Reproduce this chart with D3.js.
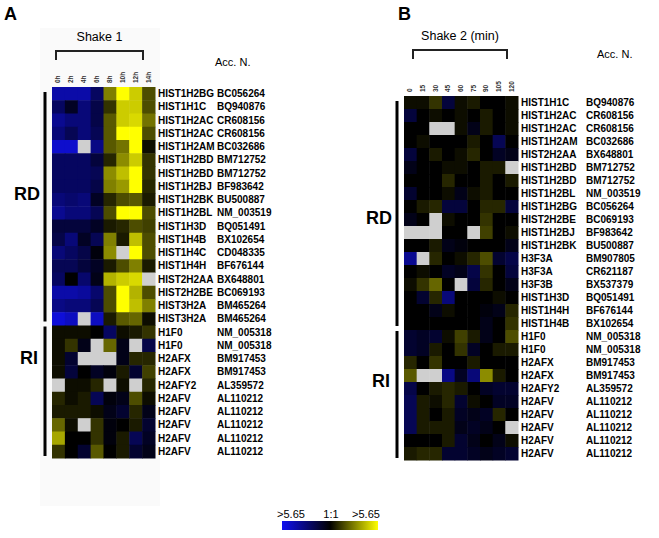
<!DOCTYPE html>
<html>
<head>
<meta charset="utf-8">
<script src="https://cdn.jsdelivr.net/npm/d3@7"></script>
<style>
  body { margin: 0; background: #fff; }
  svg text { font-family: "Liberation Sans", Arial, sans-serif; }
</style>
</head>
<body>
<svg id="chart" width="659" height="538"></svg>
<script>
/* panel A: Shake 1, hours */
const colsA = ['0h', '2h', '4h', '6h', '8h', '10h', '12h', '14h'];
const genesA = ['HIST1H2BG', 'HIST1H1C', 'HIST1H2AC', 'HIST1H2AC', 'HIST1H2AM', 'HIST1H2BD', 'HIST1H2BD',
  'HIST1H2BJ', 'HIST1H2BK', 'HIST1H2BL', 'HIST1H3D', 'HIST1H4B', 'HIST1H4C', 'HIST1H4H', 'HIST2H2AA',
  'HIST2H2BE', 'HIST3H2A', 'HIST3H2A', 'H1F0', 'H1F0', 'H2AFX', 'H2AFX', 'H2AFY2', 'H2AFV', 'H2AFV',
  'H2AFV', 'H2AFV', 'H2AFV'];
const accA = ['BC056264', 'BQ940876', 'CR608156', 'CR608156', 'BC032686', 'BM712752', 'BM712752',
  'BF983642', 'BU500887', 'NM_003519', 'BQ051491', 'BX102654', 'CD048335', 'BF676144', 'BX648801',
  'BC069193', 'BM465264', 'BM465264', 'NM_005318', 'NM_005318', 'BM917453', 'BM917453', 'AL359572',
  'AL110212', 'AL110212', 'AL110212', 'AL110212', 'AL110212'];
// log ratio, -1 = full blue, 1 = full yellow, null = no data (grey)
const valuesA = [
  [-0.7, -0.7, -0.7, -0.4, 0.5, 1.0, 0.8, 0.3],
  [-0.4, -0.15, -0.5, -0.3, 0.2, 0.8, 0.8, 0.3],
  [-0.6, -0.5, -0.5, -0.3, 0.35, 0.8, 0.85, 0.45],
  [-0.5, -0.35, -0.5, -0.35, 0.35, 1.0, 1.0, 0.3],
  [-0.85, -0.85, null, -0.55, 0.35, 0.45, 1.0, 0.05],
  [-0.4, -0.4, -0.4, -0.25, 0.15, 0.55, 0.8, 0.2],
  [-0.4, -0.4, -0.4, -0.35, 0.55, 0.75, 1.0, 0.2],
  [-0.4, -0.4, -0.4, -0.3, 0.5, 0.6, 1.0, 0.15],
  [-0.5, -0.45, -0.5, -0.15, 0.15, 0.3, 0.35, 0.1],
  [-0.6, -0.5, -0.5, -0.35, 0.3, 1.0, 1.0, 0.3],
  [-0.25, -0.25, -0.25, -0.15, 0.1, 0.15, 0.3, 0.25],
  [-0.3, -0.5, -0.15, -0.35, 0.5, 0.1, 0.75, 0.3],
  [-0.5, -0.4, -0.3, -0.05, 0.55, null, 1.0, 0.3],
  [-0.35, -0.35, -0.25, -0.15, 0.1, 0.3, 0.5, 0.1],
  [-0.4, 0, -0.45, -0.1, 0.7, 0.8, 0.85, null],
  [-0.7, -0.7, -0.65, -0.45, 0.3, 1.0, 0.7, 0.3],
  [-0.55, -0.5, -0.5, -0.35, 0.3, 1.0, 0.75, 0.5],
  [-0.9, -0.8, null, -0.8, 0.1, 0.35, 0.4, 0.05],
  [0.05, 0.05, 0.05, 0, -0.4, 0.05, 0.1, 0.2],
  [0.05, 0.2, -0.1, null, 0.4, -0.1, null, -0.3],
  [0.05, -0.2, null, null, null, -0.1, 0.15, 0.15],
  [0.05, -0.25, 0, -0.15, -0.05, 0.1, -0.2, 0.25],
  [null, 0.05, 0.05, 0.15, null, 0.05, null, 0.15],
  [0.15, 0.05, 0.1, -0.35, -0.05, -0.1, 0.3, 0.05],
  [0.1, 0.1, 0.1, 0.05, -0.1, -0.2, 0.15, -0.1],
  [0.4, 0.05, null, 0.2, -0.05, 0, 0.1, -0.2],
  [0.65, 0, 0, 0.2, -0.05, 0.1, -0.35, -0.15],
  [0.2, 0, -0.2, 0.35, 0, 0.1, -0.2, -0.1]
];

/* panel B: Shake 2, minutes */
const colsB = ['0', '15', '30', '45', '60', '75', '90', '105', '120'];
const genesB = ['HIST1H1C', 'HIST1H2AC', 'HIST1H2AC', 'HIST1H2AM', 'HIST2H2AA', 'HIST1H2BD', 'HIST1H2BD',
  'HIST1H2BL', 'HIST1H2BG', 'HIST2H2BE', 'HIST1H2BJ', 'HIST1H2BK', 'H3F3A', 'H3F3A', 'H3F3B',
  'HIST1H3D', 'HIST1H4H', 'HIST1H4B', 'H1F0', 'H1F0', 'H2AFX', 'H2AFX', 'H2AFY2', 'H2AFV', 'H2AFV',
  'H2AFV', 'H2AFV', 'H2AFV'];
const accB = ['BQ940876', 'CR608156', 'CR608156', 'BC032686', 'BX648801', 'BM712752', 'BM712752',
  'NM_003519', 'BC056264', 'BC069193', 'BF983642', 'BU500887', 'BM907805', 'CR621187', 'BX537379',
  'BQ051491', 'BF676144', 'BX102654', 'NM_005318', 'NM_005318', 'BM917453', 'BM917453', 'AL359572',
  'AL110212', 'AL110212', 'AL110212', 'AL110212', 'AL110212'];
const valuesB = [
  [0.05, 0.05, 0.2, -0.25, 0.05, 0.1, 0, 0, 0.05],
  [-0.25, 0, 0.05, 0, 0.05, 0, 0.1, 0, 0.05],
  [0, 0, null, null, 0.05, -0.1, 0.1, 0, 0.05],
  [0, 0.05, 0, 0, 0, 0.1, 0, -0.35, 0],
  [-0.25, 0, 0.1, 0, 0.05, 0.15, 0, -0.15, -0.1],
  [-0.1, 0, 0, 0.05, 0.05, 0, 0.1, 0.1, null],
  [0, 0, 0, 0.15, 0, 0, 0.1, 0, 0.1],
  [-0.2, 0, 0, 0.05, -0.1, 0.05, 0.1, 0, 0],
  [0, 0.1, 0.15, -0.25, -0.25, 0, 0.15, 0.15, -0.25],
  [-0.1, 0, null, 0.05, 0, 0, 0.2, 0, 0],
  [null, null, null, 0, 0, null, 0.25, 0, 0.05],
  [0, 0, 0.1, -0.1, -0.05, 0, 0, 0, -0.1],
  [-0.6, null, 0.15, 0, 0.05, 0.15, 0.3, -0.2, -0.3],
  [0, 0.05, 0, -0.15, -0.1, -0.3, 0.2, 0, -0.25],
  [0.05, 0.2, 0.4, 0, null, -0.25, 0.15, 0, -0.1],
  [0, -0.2, 0.15, -0.5, 0, 0, 0, 0.05, 0],
  [0, 0, -0.1, 0.05, 0, 0, -0.05, -0.1, 0.15],
  [0, 0, 0, 0, 0, 0, -0.1, 0, 0.2],
  [-0.2, -0.15, -0.2, 0.05, 0.25, 0.1, -0.1, 0, 0.3],
  [-0.2, -0.15, 0.1, 0, 0.2, -0.15, 0, 0.1, 0.1],
  [0.15, 0, 0.2, 0, 0, 0.1, 0, 0, 0],
  [0.35, null, null, -0.55, -0.15, -0.5, 0.55, 0.1, 0],
  [-0.3, 0, 0.1, 0.15, 0.1, 0, -0.15, -0.2, -0.2],
  [-0.35, 0.1, 0.05, 0.15, -0.2, 0.05, 0, -0.15, -0.15],
  [-0.35, 0.1, 0, 0.1, -0.15, -0.1, -0.15, 0.15, 0],
  [-0.35, 0.1, 0.1, 0.1, -0.1, -0.15, -0.1, 0, null],
  [0, 0, 0, 0.1, -0.2, -0.1, 0, -0.1, 0.05],
  [0.1, 0.15, 0.15, -0.2, -0.2, -0.15, -0.1, -0.15, -0.2]
];

const legendLabels = ['>5.65', '1:1', '>5.65'];

const svg = d3.select('#chart');
const color = d3.scaleLinear().domain([-1, 0, 1]).range(['#1010f0', '#000000', '#ffff00']);
const missing = '#cfcfcf';

/* faint scanned background behind panel A */
svg.append('rect').attr('x', 40).attr('y', 28).attr('width', 120).attr('height', 478)
  .attr('fill', '#fafafa');

function panel(opt) {
  const x = d3.scaleBand().domain(opt.cols).range([opt.x0, opt.x1]);
  const y = d3.scaleBand().domain(d3.range(opt.genes.length)).range([opt.y0, opt.y1]);
  const g = svg.append('g');

  const cells = [];
  opt.values.forEach((row, i) => row.forEach((v, j) => cells.push({ i, j, v })));
  g.selectAll('rect.cell').data(cells).join('rect')
    .attr('class', 'cell')
    .attr('x', d => x(opt.cols[d.j]))
    .attr('y', d => y(d.i))
    .attr('width', x.bandwidth() + 0.5)
    .attr('height', y.bandwidth() + 0.5)
    .attr('fill', d => d.v === null ? missing : color(d.v));

  /* column labels, rotated */
  g.selectAll('text.col').data(opt.cols).join('text')
    .attr('class', 'col')
    .attr('transform', d => `translate(${x(d) + x.bandwidth() / 2 + 2}, ${opt.y0 - 4}) rotate(-90)`)
    .attr('font-size', 6.5)
    .attr('font-weight', 'bold')
    .attr('fill', '#333')
    .text(d => d);

  /* gene names and accession numbers */
  g.selectAll('text.gene').data(opt.genes).join('text')
    .attr('class', 'gene')
    .attr('x', opt.x1 + 3)
    .attr('y', (d, i) => y(i) + y.bandwidth() / 2 + 3.5)
    .attr('font-size', 10)
    .attr('font-weight', 'bold')
    .text(d => d);
  g.selectAll('text.acc').data(opt.acc).join('text')
    .attr('class', 'acc')
    .attr('x', opt.accX)
    .attr('y', (d, i) => y(i) + y.bandwidth() / 2 + 3.5)
    .attr('font-size', 10)
    .attr('font-weight', 'bold')
    .text(d => d);

  /* RD / RI group bars */
  const split = y(opt.rd);
  g.append('line').attr('x1', opt.barX).attr('x2', opt.barX)
    .attr('y1', opt.y0 + 5).attr('y2', split - 4)
    .attr('stroke', '#000').attr('stroke-width', 3);
  g.append('line').attr('x1', opt.barX).attr('x2', opt.barX)
    .attr('y1', split + 1).attr('y2', opt.y1 - 2)
    .attr('stroke', '#000').attr('stroke-width', 3);
  g.append('text').attr('x', opt.barX - 5).attr('y', opt.rdY)
    .attr('text-anchor', 'end').attr('font-size', 18).attr('font-weight', 'bold').text('RD');
  g.append('text').attr('x', opt.barX - 7).attr('y', opt.riY)
    .attr('text-anchor', 'end').attr('font-size', 18).attr('font-weight', 'bold').text('RI');

  /* panel letter, time bracket, header */
  g.append('text').attr('x', opt.letterX).attr('y', 20)
    .attr('font-size', 18).attr('font-weight', 'bold').text(opt.letter);
  const [bx0, bx1] = opt.bracket;
  g.append('path')
    .attr('d', `M${bx0},${opt.bracketY + 9}V${opt.bracketY}H${bx1}V${opt.bracketY + 9}`)
    .attr('fill', 'none').attr('stroke', '#222').attr('stroke-width', 2);
  g.append('text').attr('x', (bx0 + bx1) / 2).attr('y', opt.bracketY - 10)
    .attr('text-anchor', 'middle').attr('font-size', 12.5).text(opt.title);
  g.append('text').attr('x', opt.accHead[0]).attr('y', opt.accHead[1])
    .attr('font-size', 11).text('Acc. N.');
}

panel({
  cols: colsA, genes: genesA, acc: accA, values: valuesA, rd: 18,
  x0: 52, x1: 155, y0: 87, y1: 458, accX: 217, barX: 45, rdY: 200, riY: 364,
  letter: 'A', letterX: 4, title: 'Shake 1', bracket: [56, 143], bracketY: 51, accHead: [215, 66]
});
panel({
  cols: colsB, genes: genesB, acc: accB, values: valuesB, rd: 18,
  x0: 404, x1: 518, y0: 96, y1: 460, accX: 586, barX: 397, rdY: 224, riY: 387,
  letter: 'B', letterX: 398, title: 'Shake 2 (min)', bracket: [413, 507], bracketY: 50, accHead: [597, 58]
});

/* colour key */
const defs = svg.append('defs');
const grad = defs.append('linearGradient').attr('id', 'key');
color.domain().forEach((d, i) => {
  grad.append('stop').attr('offset', `${i * 50}%`).attr('stop-color', color(d));
});
const keyX = [291, 331, 366];
svg.append('rect').attr('x', 282).attr('y', 521).attr('width', 96).attr('height', 9)
  .attr('fill', 'url(#key)');
svg.selectAll('text.key').data(legendLabels).join('text')
  .attr('class', 'key')
  .attr('x', (d, i) => keyX[i])
  .attr('y', 518)
  .attr('text-anchor', 'middle')
  .attr('font-size', 11)
  .text(d => d);
</script>
</body>
</html>
